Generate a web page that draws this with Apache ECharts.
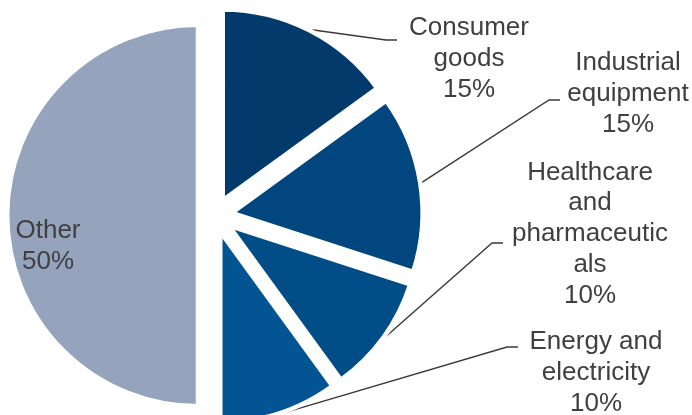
<!DOCTYPE html>
<html>
<head>
<meta charset="utf-8">
<script src="https://cdn.jsdelivr.net/npm/echarts@6/dist/echarts.min.js"></script>
<style>
  html, body { margin: 0; padding: 0; background: #ffffff; }
  #chart { width: 692px; height: 415px; }
</style>
</head>
<body>
<div id="chart"></div>
<script>
// Sector shares (%)
const categories = ['Consumer goods', 'Industrial equipment', 'Healthcare and pharmaceuticals', 'Energy and electricity', 'Other'];
const shares = [15, 15, 10, 10, 50];
// Wrapped label text for each sector
const labelText = [
  ['Consumer', 'goods'],
  ['Industrial', 'equipment'],
  ['Healthcare', 'and', 'pharmaceutic', 'als'],
  ['Energy and', 'electricity'],
  ['Other']
];

// Styling and label placement
const colors = ['#023a6b', '#02467f', '#014d88', '#035493', '#95a3bd'];
const pieCenter = [215, 215.5];
const pieRadius = 190.8;
const explode = 17;
const labelPlace = [
  { x: 469, y: 59, end: [397, 40] },
  { x: 628, y: 94, end: [560, 100] },
  { x: 590, y: 234, end: [503, 243] },
  { x: 596, y: 373, end: [518, 347] },
  { x: 48, y: 246, end: null }
];
const elbow = 11;

const chart = echarts.init(document.getElementById('chart'), null, { renderer: 'canvas' });

// Each sector is drawn by its own pie series (the other sectors kept invisible),
// so every sector can be pulled out along its own bisector.
const total = shares.reduce((a, b) => a + b, 0);
let cumulative = 0;
const series = categories.map((name, k) => {
  const mid = (cumulative + shares[k] / 2) / total * 2 * Math.PI; // clockwise from 12 o'clock
  cumulative += shares[k];
  const center = [pieCenter[0] + explode * Math.sin(mid), pieCenter[1] - explode * Math.cos(mid)];
  // leader line starts just outside the arc, on the sector's bisector
  const lineStart = [center[0] + (pieRadius + 1) * Math.sin(mid), center[1] - (pieRadius + 1) * Math.cos(mid)];
  return {
    type: 'pie',
    name: name,
    center: center,
    radius: [0, pieRadius],
    startAngle: 90,
    clockwise: true,
    avoidLabelOverlap: false,
    emphasis: { disabled: true },
    label: {
      show: true,
      position: 'outside',
      fontFamily: 'Liberation Sans, Arial, sans-serif',
      fontSize: 26,
      lineHeight: 30.7,
      color: '#404040',
      align: 'center',
      formatter: (p) => labelText[p.dataIndex].concat([p.value + '%']).join('\n')
    },
    labelLine: {
      show: k < 4,
      lineStyle: { color: '#3a3a3a', width: 1.4 }
    },
    labelLayout: function (params) {
      const place = labelPlace[params.dataIndex];
      const out = { x: place.x, y: place.y, align: 'center', verticalAlign: 'middle' };
      if (place.end) {
        out.labelLinePoints = [
          lineStart,
          [place.end[0] - elbow, place.end[1]],
          [place.end[0], place.end[1]]
        ];
      }
      return out;
    },
    data: categories.map((n, i) => i === k
      ? { name: n, value: shares[i], itemStyle: { color: colors[i], borderColor: '#ffffff', borderWidth: 4.5 } }
      : { name: n, value: shares[i], itemStyle: { color: 'rgba(0,0,0,0)', borderWidth: 0 }, label: { show: false }, labelLine: { show: false } })
  };
});

chart.setOption({ animation: false, series: series });
</script>
</body>
</html>
